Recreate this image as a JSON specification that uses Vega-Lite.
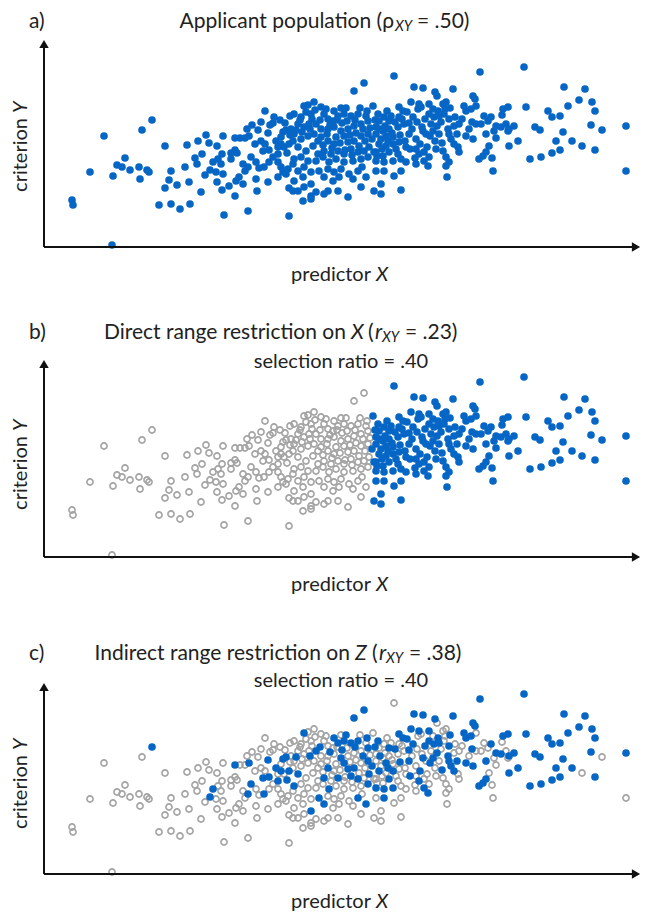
{
  "$schema": "https://vega.github.io/schema/vega-lite/v6.json",
  "background": "white",
  "padding": {"left": 11, "top": 11, "right": 5, "bottom": 2},
  "spacing": 112,
  "bounds": "flush",
  "config": {"view": {"stroke": null}, "font": "Lato"},
  "datasets": {
    "pts": [
      {"x":28,"y":47,"z":0},{"x":29,"y":42,"z":0},{"x":46,"y":75,"z":0},{"x":60,"y":111,"z":0},{"x":68,"y":2,"z":0},{"x":69,"y":71,"z":0},{"x":73,"y":82,"z":0},{"x":78,"y":80,"z":0},{"x":81,"y":89,"z":0},{"x":86,"y":77,"z":0},{"x":95,"y":80,"z":0},{"x":96,"y":68,"z":0},{"x":98,"y":117,"z":0},{"x":103,"y":77,"z":0},{"x":105,"y":75,"z":0},{"x":108,"y":127,"z":1},{"x":115,"y":42,"z":0},{"x":121,"y":101,"z":0},{"x":121,"y":59,"z":0},{"x":125,"y":67,"z":0},{"x":127,"y":76,"z":0},{"x":127,"y":43,"z":0},{"x":133,"y":62,"z":0},{"x":136,"y":38,"z":0},{"x":141,"y":80,"z":0},{"x":143,"y":102,"z":0},{"x":145,"y":65,"z":0},{"x":146,"y":43,"z":0},{"x":151,"y":89,"z":0},{"x":153,"y":83,"z":0},{"x":154,"y":106,"z":0},
      {"x":157,"y":55,"z":0},{"x":158,"y":93,"z":0},{"x":161,"y":72,"z":0},{"x":162,"y":112,"z":0},{"x":165,"y":104,"z":0},{"x":169,"y":85,"z":1},{"x":166,"y":77,"z":1},{"x":173,"y":101,"z":0},{"x":174,"y":88,"z":0},{"x":177,"y":83,"z":0},{"x":178,"y":93,"z":0},{"x":179,"y":111,"z":0},{"x":172,"y":75,"z":0},{"x":179,"y":73,"z":0},{"x":173,"y":65,"z":0},{"x":178,"y":57,"z":0},{"x":180,"y":32,"z":0},{"x":185,"y":61,"z":0},{"x":187,"y":94,"z":0},{"x":187,"y":88,"z":0},{"x":191,"y":109,"z":1},{"x":191,"y":97,"z":0},{"x":193,"y":94,"z":0},{"x":191,"y":51,"z":0},{"x":192,"y":66,"z":0},{"x":195,"y":70,"z":0},{"x":196,"y":109,"z":0},{"x":199,"y":83,"z":0},{"x":199,"y":63,"z":0},{"x":201,"y":109,"z":0},{"x":201,"y":76,"z":0},{"x":204,"y":80,"z":1},{"x":204,"y":36,"z":0},{"x":205,"y":111,"z":1},{"x":207,"y":90,"z":1},{"x":211,"y":103,"z":0},{"x":212,"y":85,"z":0},{"x":212,"y":68,"z":0},{"x":213,"y":56,"z":0},{"x":215,"y":79,"z":0},{"x":217,"y":106,"z":0},{"x":219,"y":96,"z":1},{"x":220,"y":80,"z":1},{"x":221,"y":103,"z":0},{"x":221,"y":136,"z":0},{"x":224,"y":114,"z":1},{"x":224,"y":65,"z":0},{"x":225,"y":97,"z":1},{"x":225,"y":85,"z":0},{"x":226,"y":122,"z":0},{"x":229,"y":124,"z":0},{"x":229,"y":90,"z":0},{"x":232,"y":106,"z":1},{"x":234,"y":100,"z":0},{"x":234,"y":85,"z":0},{"x":234,"y":70,"z":0},{"x":234,"y":93,"z":1},{"x":237,"y":110,"z":0},{"x":237,"y":103,"z":1},{"x":237,"y":80,"z":0},{"x":239,"y":115,"z":1},{"x":239,"y":75,"z":0},{"x":240,"y":100,"z":0},{"x":242,"y":117,"z":1},{"x":242,"y":73,"z":0},{"x":243,"y":94,"z":1},{"x":244,"y":78,"z":0},{"x":245,"y":103,"z":1},{"x":245,"y":59,"z":0},{"x":245,"y":31,"z":0},{"x":246,"y":131,"z":0},{"x":247,"y":118,"z":0},{"x":249,"y":106,"z":0},{"x":249,"y":83,"z":0},{"x":249,"y":56,"z":0},
      {"x":250,"y":133,"z":0},{"x":250,"y":113,"z":0},{"x":250,"y":88,"z":1},{"x":250,"y":66,"z":0},{"x":254,"y":123,"z":0},{"x":254,"y":100,"z":1},{"x":254,"y":76,"z":0},{"x":254,"y":56,"z":0},{"x":257,"y":130,"z":0},{"x":257,"y":108,"z":0},{"x":257,"y":90,"z":0},{"x":259,"y":46,"z":0},{"x":259,"y":70,"z":0},{"x":260,"y":141,"z":1},{"x":260,"y":120,"z":0},{"x":260,"y":80,"z":0},{"x":260,"y":60,"z":0},{"x":262,"y":96,"z":0},{"x":264,"y":142,"z":0},{"x":264,"y":111,"z":0},{"x":264,"y":86,"z":0},{"x":265,"y":123,"z":0},{"x":267,"y":133,"z":0},{"x":267,"y":75,"z":0},{"x":267,"y":63,"z":1},{"x":267,"y":51,"z":0},{"x":267,"y":48,"z":0},{"x":269,"y":101,"z":0},{"x":270,"y":145,"z":0},{"x":270,"y":113,"z":0},{"x":272,"y":123,"z":1},{"x":272,"y":86,"z":0},{"x":272,"y":55,"z":0},{"x":274,"y":93,"z":0},{"x":275,"y":76,"z":1},{"x":277,"y":140,"z":0},{"x":277,"y":118,"z":0},{"x":277,"y":110,"z":0},{"x":279,"y":90,"z":0},{"x":280,"y":133,"z":0},{"x":280,"y":96,"z":1},{"x":280,"y":70,"z":1},{"x":280,"y":53,"z":0},{"x":284,"y":128,"z":0},{"x":284,"y":118,"z":0},{"x":284,"y":106,"z":1},{"x":284,"y":78,"z":0},{"x":284,"y":56,"z":0},{"x":285,"y":85,"z":1},{"x":287,"y":93,"z":0},{"x":289,"y":126,"z":0},{"x":289,"y":66,"z":0},{"x":290,"y":136,"z":1},{"x":290,"y":120,"z":0},{"x":290,"y":103,"z":0},{"x":290,"y":75,"z":0},{"x":292,"y":88,"z":0},{"x":294,"y":131,"z":1},{"x":294,"y":96,"z":1},{"x":294,"y":56,"z":0},{"x":295,"y":70,"z":0},{"x":297,"y":139,"z":0},{"x":297,"y":116,"z":1},{"x":297,"y":78,"z":0},{"x":300,"y":133,"z":1},{"x":300,"y":111,"z":1},{"x":300,"y":93,"z":0},{"x":300,"y":85,"z":0},{"x":304,"y":118,"z":0},{"x":304,"y":105,"z":1},{"x":304,"y":50,"z":0},{"x":305,"y":73,"z":0},{"x":307,"y":131,"z":1},{"x":307,"y":98,"z":1},{"x":309,"y":86,"z":0},{"x":309,"y":68,"z":0},{"x":310,"y":156,"z":1},{"x":310,"y":121,"z":0},{"x":310,"y":106,"z":1},{"x":314,"y":133,"z":1},{"x":314,"y":95,"z":1},{"x":314,"y":76,"z":1},{"x":317,"y":123,"z":0},{"x":317,"y":111,"z":0},{"x":317,"y":88,"z":0},{"x":318,"y":80,"z":0},{"x":317,"y":60,"z":0},{"x":320,"y":164,"z":1},{"x":320,"y":96,"z":0},{"x":322,"y":70,"z":1},{"x":323,"y":136,"z":1},{"x":324,"y":126,"z":1},{"x":324,"y":113,"z":1},{"x":324,"y":90,"z":1},{"x":325,"y":100,"z":1},{"x":330,"y":56,"z":0},
      {"x":332,"y":120,"z":0},{"x":332,"y":113,"z":0},{"x":332,"y":95,"z":0},{"x":332,"y":86,"z":1},{"x":332,"y":76,"z":0},{"x":334,"y":133,"z":1},{"x":335,"y":126,"z":0},{"x":335,"y":103,"z":1},{"x":337,"y":108,"z":0},{"x":337,"y":63,"z":0},{"x":337,"y":53,"z":0},{"x":339,"y":116,"z":0},{"x":339,"y":91,"z":0},{"x":340,"y":130,"z":0},{"x":340,"y":85,"z":1},{"x":340,"y":76,"z":1},{"x":342,"y":111,"z":1},{"x":342,"y":101,"z":0},{"x":345,"y":126,"z":1},{"x":345,"y":118,"z":0},{"x":345,"y":95,"z":1},{"x":349,"y":110,"z":0},{"x":349,"y":103,"z":1},{"x":349,"y":86,"z":1},{"x":350,"y":171,"z":0},{"x":350,"y":71,"z":0},{"x":354,"y":120,"z":0},{"x":354,"y":93,"z":0},{"x":355,"y":140,"z":1},{"x":355,"y":130,"z":0},{"x":355,"y":105,"z":0},{"x":357,"y":88,"z":0},{"x":357,"y":76,"z":0},{"x":357,"y":57,"z":0},{"x":359,"y":136,"z":1},{"x":360,"y":123,"z":0},{"x":362,"y":100,"z":0},{"x":362,"y":85,"z":0},{"x":365,"y":124,"z":1},{"x":365,"y":113,"z":1},{"x":367,"y":145,"z":1},{"x":370,"y":160,"z":1},{"x":372,"y":108,"z":0},{"x":372,"y":98,"z":0},{"x":372,"y":83,"z":0},{"x":374,"y":138,"z":0},{"x":375,"y":143,"z":1},{"x":375,"y":93,"z":1},{"x":377,"y":140,"z":0},{"x":379,"y":159,"z":1},{"x":379,"y":116,"z":1},{"x":380,"y":95,"z":0},{"x":380,"y":86,"z":1},{"x":382,"y":113,"z":0},{"x":384,"y":81,"z":1},{"x":385,"y":143,"z":1},{"x":385,"y":133,"z":1},{"x":385,"y":90,"z":0},{"x":389,"y":138,"z":0},{"x":389,"y":116,"z":1},{"x":390,"y":130,"z":1},{"x":391,"y":155,"z":1},{"x":392,"y":98,"z":0},{"x":393,"y":151,"z":0},{"x":394,"y":136,"z":1},{"x":395,"y":131,"z":1},{"x":395,"y":113,"z":0},{"x":399,"y":143,"z":0},{"x":399,"y":96,"z":0},{"x":400,"y":133,"z":0},{"x":402,"y":145,"z":0},{"x":402,"y":90,"z":0},{"x":402,"y":81,"z":0},{"x":403,"y":70,"z":0},{"x":404,"y":118,"z":1},{"x":405,"y":128,"z":1},{"x":405,"y":113,"z":1},{"x":405,"y":85,"z":0},{"x":407,"y":108,"z":1},{"x":409,"y":158,"z":1},{"x":410,"y":121,"z":0},{"x":410,"y":103,"z":1},{"x":414,"y":100,"z":0},{"x":415,"y":123,"z":0},{"x":415,"y":95,"z":0},{"x":422,"y":136,"z":1},{"x":422,"y":111,"z":1},{"x":427,"y":138,"z":1},{"x":429,"y":151,"z":1},{"x":429,"y":108,"z":1},{"x":431,"y":148,"z":1},{"x":432,"y":141,"z":0},{"x":432,"y":123,"z":0},{"x":435,"y":88,"z":1},{"x":436,"y":175,"z":1},{"x":437,"y":123,"z":0},{"x":439,"y":91,"z":1},{"x":440,"y":131,"z":0},{"x":442,"y":113,"z":1},{"x":444,"y":126,"z":0},{"x":449,"y":76,"z":0},{"x":450,"y":116,"z":0},
      {"x":447,"y":130,"z":1},{"x":452,"y":121,"z":1},{"x":457,"y":120,"z":1},{"x":462,"y":123,"z":0},{"x":465,"y":118,"z":1},{"x":470,"y":121,"z":1},{"x":464,"y":116,"z":0},{"x":459,"y":138,"z":1},{"x":464,"y":140,"z":1},{"x":458,"y":132,"z":0},{"x":480,"y":180,"z":1},{"x":482,"y":140,"z":1},{"x":491,"y":120,"z":1},{"x":496,"y":117,"z":1},{"x":504,"y":136,"z":1},{"x":508,"y":130,"z":1},{"x":516,"y":131,"z":1},{"x":520,"y":160,"z":1},{"x":541,"y":158,"z":1},{"x":535,"y":147,"z":1},{"x":548,"y":145,"z":1},{"x":551,"y":136,"z":1},{"x":524,"y":141,"z":1},{"x":547,"y":122,"z":1},{"x":558,"y":117,"z":0},{"x":582,"y":121,"z":1},{"x":519,"y":115,"z":1},{"x":452,"y":109,"z":0},{"x":474,"y":106,"z":1},{"x":465,"y":101,"z":1},{"x":512,"y":106,"z":1},{"x":528,"y":106,"z":1},{"x":538,"y":101,"z":0},{"x":516,"y":97,"z":1},{"x":508,"y":94,"z":1},{"x":497,"y":90,"z":1},{"x":486,"y":88,"z":1},{"x":551,"y":97,"z":1},{"x":445,"y":101,"z":0},{"x":442,"y":95,"z":1},{"x":448,"y":89,"z":0},{"x":582,"y":76,"z":0},
      {"x":203,"y":118,"z":0},{"x":208,"y":122,"z":0},{"x":214,"y":117,"z":0},{"x":217,"y":125,"z":0},{"x":230,"y":130,"z":0},{"x":236,"y":127,"z":0},{"x":241,"y":124,"z":0},{"x":246,"y":112,"z":0},{"x":252,"y":117,"z":1},{"x":256,"y":127,"z":0},{"x":258,"y":115,"z":0},{"x":262,"y":135,"z":0},{"x":266,"y":118,"z":1},{"x":268,"y":128,"z":0},{"x":271,"y":137,"z":0},{"x":274,"y":106,"z":0},{"x":276,"y":127,"z":1},{"x":279,"y":102,"z":0},{"x":282,"y":138,"z":0},{"x":283,"y":113,"z":0},{"x":286,"y":122,"z":1},{"x":288,"y":99,"z":0},{"x":292,"y":110,"z":0},{"x":293,"y":127,"z":0},{"x":296,"y":104,"z":0},{"x":298,"y":124,"z":1},{"x":301,"y":97,"z":0},{"x":302,"y":139,"z":1},{"x":303,"y":126,"z":0},{"x":306,"y":112,"z":0},{"x":308,"y":92,"z":0},{"x":311,"y":127,"z":1},{"x":312,"y":114,"z":0},{"x":315,"y":101,"z":0},{"x":316,"y":139,"z":0},{"x":319,"y":118,"z":1},{"x":321,"y":106,"z":0},{"x":322,"y":131,"z":0},{"x":326,"y":119,"z":0},{"x":328,"y":108,"z":1},{"x":329,"y":141,"z":0},{"x":330,"y":95,"z":0},{"x":331,"y":127,"z":1},{"x":333,"y":91,"z":0},{"x":336,"y":118,"z":1},{"x":338,"y":98,"z":0},{"x":341,"y":121,"z":0},{"x":343,"y":136,"z":0},{"x":344,"y":106,"z":1},{"x":347,"y":131,"z":0},{"x":348,"y":114,"z":0},{"x":351,"y":125,"z":1},{"x":352,"y":98,"z":0},{"x":356,"y":112,"z":1},{"x":358,"y":128,"z":0},{"x":361,"y":106,"z":0},{"x":363,"y":135,"z":1},{"x":366,"y":98,"z":1},{"x":368,"y":118,"z":0},{"x":369,"y":130,"z":1},{"x":371,"y":89,"z":0},{"x":373,"y":125,"z":0},{"x":376,"y":103,"z":1},{"x":378,"y":120,"z":0},{"x":381,"y":128,"z":1},{"x":383,"y":100,"z":0},{"x":386,"y":111,"z":1},{"x":387,"y":123,"z":0},{"x":391,"y":106,"z":0},{"x":393,"y":121,"z":1},{"x":397,"y":125,"z":0},{"x":398,"y":104,"z":1},{"x":401,"y":138,"z":0},{"x":406,"y":139,"z":1},{"x":411,"y":130,"z":0},{"x":413,"y":113,"z":1},{"x":418,"y":128,"z":0},{"x":420,"y":141,"z":1},{"x":425,"y":118,"z":0},{"x":428,"y":125,"z":1}
    ]
  },
  "vconcat": [
    {
      "width": 598, "height": 210,
      "data": {"values": [{}]},
      "layer": [
        {"data": {"name": "pts"}, "mark": {"type": "point", "filled": true, "size": 58, "opacity": 1, "color": "#0566c6"},
         "encoding": {"x": {"field": "x", "type": "quantitative", "scale": {"domain": [0, 598], "nice": false}, "axis": null},
                      "y": {"field": "y", "type": "quantitative", "scale": {"domain": [0, 210], "nice": false}, "axis": null}}},
        {"mark": {"type": "rule", "color": "#111", "strokeWidth": 2},
         "encoding": {"x": {"datum": 0, "type": "quantitative", "scale": {"domain": [0, 598], "nice": false}, "axis": null}, "x2": {"datum": 590},
                      "y": {"datum": 0, "type": "quantitative", "scale": {"domain": [0, 210], "nice": false}, "axis": null}}},
        {"mark": {"type": "rule", "color": "#111", "strokeWidth": 2},
         "encoding": {"x": {"datum": 0, "type": "quantitative", "scale": {"domain": [0, 598], "nice": false}, "axis": null},
                      "y": {"datum": 0, "type": "quantitative", "scale": {"domain": [0, 210], "nice": false}, "axis": null}, "y2": {"datum": 200}}},
        {"mark": {"type": "point", "shape": "triangle-right", "filled": true, "size": 90, "opacity": 1, "color": "#111"},
         "encoding": {"x": {"datum": 592, "type": "quantitative", "scale": {"domain": [0, 598], "nice": false}, "axis": null},
                      "y": {"datum": 0, "type": "quantitative", "scale": {"domain": [0, 210], "nice": false}, "axis": null}}},
        {"mark": {"type": "point", "shape": "triangle-up", "filled": true, "size": 90, "opacity": 1, "color": "#111"},
         "encoding": {"x": {"datum": 0, "type": "quantitative", "scale": {"domain": [0, 598], "nice": false}, "axis": null},
                      "y": {"datum": 203, "type": "quantitative", "scale": {"domain": [0, 210], "nice": false}, "axis": null}}},
        {"mark": {"type": "text", "text": "a)", "fontSize": 21, "align": "left", "color": "#222"},
         "encoding": {"x": {"datum": -15, "type": "quantitative", "scale": {"domain": [0, 598], "nice": false}, "axis": null},
                      "y": {"datum": 225, "type": "quantitative", "scale": {"domain": [0, 210], "nice": false}, "axis": null}}},
        {"mark": {"type": "text", "text": "Applicant population (ρ", "fontSize": 21, "align": "right", "color": "#222"},
         "encoding": {"x": {"datum": 350, "type": "quantitative", "scale": {"domain": [0, 598], "nice": false}, "axis": null},
                      "y": {"datum": 225, "type": "quantitative", "scale": {"domain": [0, 210], "nice": false}, "axis": null}}},
        {"mark": {"type": "text", "text": "XY", "fontSize": 14.5, "fontStyle": "italic", "align": "left", "color": "#222"},
         "encoding": {"x": {"datum": 351, "type": "quantitative", "scale": {"domain": [0, 598], "nice": false}, "axis": null},
                      "y": {"datum": 220, "type": "quantitative", "scale": {"domain": [0, 210], "nice": false}, "axis": null}}},
        {"mark": {"type": "text", "text": "= .50)", "fontSize": 21, "align": "left", "color": "#222"},
         "encoding": {"x": {"datum": 373, "type": "quantitative", "scale": {"domain": [0, 598], "nice": false}, "axis": null},
                      "y": {"datum": 225, "type": "quantitative", "scale": {"domain": [0, 210], "nice": false}, "axis": null}}},
        {"mark": {"type": "text", "text": "predictor", "fontSize": 20, "align": "right", "color": "#222"},
         "encoding": {"x": {"datum": 327, "type": "quantitative", "scale": {"domain": [0, 598], "nice": false}, "axis": null},
                      "y": {"datum": -28, "type": "quantitative", "scale": {"domain": [0, 210], "nice": false}, "axis": null}}},
        {"mark": {"type": "text", "text": "X", "fontSize": 20, "fontStyle": "italic", "align": "left", "color": "#222"},
         "encoding": {"x": {"datum": 332, "type": "quantitative", "scale": {"domain": [0, 598], "nice": false}, "axis": null},
                      "y": {"datum": -28, "type": "quantitative", "scale": {"domain": [0, 210], "nice": false}, "axis": null}}},
        {"mark": {"type": "text", "text": "criterion", "fontSize": 20, "angle": 270, "align": "right", "baseline": "middle", "color": "#222"},
         "encoding": {"x": {"datum": -23, "type": "quantitative", "scale": {"domain": [0, 598], "nice": false}, "axis": null},
                      "y": {"datum": 129, "type": "quantitative", "scale": {"domain": [0, 210], "nice": false}, "axis": null}}},
        {"mark": {"type": "text", "text": "Y", "fontSize": 20, "fontStyle": "italic", "angle": 270, "align": "left", "baseline": "middle", "color": "#222"},
         "encoding": {"x": {"datum": -23, "type": "quantitative", "scale": {"domain": [0, 598], "nice": false}, "axis": null},
                      "y": {"datum": 134, "type": "quantitative", "scale": {"domain": [0, 210], "nice": false}, "axis": null}}}
      ]
    },
    {
      "width": 598, "height": 198,
      "data": {"values": [{}]},
      "layer": [
        {"data": {"name": "pts"}, "transform": [{"filter": "datum.x < 327"}], "mark": {"type": "point", "filled": false, "size": 38, "strokeWidth": 1.6, "opacity": 1, "color": "#a3a3a3"},
         "encoding": {"x": {"field": "x", "type": "quantitative", "scale": {"domain": [0, 598], "nice": false}, "axis": null},
                      "y": {"field": "y", "type": "quantitative", "scale": {"domain": [0, 198], "nice": false}, "axis": null}}},
        {"data": {"name": "pts"}, "transform": [{"filter": "datum.x >= 327"}], "mark": {"type": "point", "filled": true, "size": 58, "opacity": 1, "color": "#0566c6"},
         "encoding": {"x": {"field": "x", "type": "quantitative", "scale": {"domain": [0, 598], "nice": false}, "axis": null},
                      "y": {"field": "y", "type": "quantitative", "scale": {"domain": [0, 198], "nice": false}, "axis": null}}},
        {"mark": {"type": "rule", "color": "#111", "strokeWidth": 2},
         "encoding": {"x": {"datum": 0, "type": "quantitative", "scale": {"domain": [0, 598], "nice": false}, "axis": null}, "x2": {"datum": 590},
                      "y": {"datum": 0, "type": "quantitative", "scale": {"domain": [0, 198], "nice": false}, "axis": null}}},
        {"mark": {"type": "rule", "color": "#111", "strokeWidth": 2},
         "encoding": {"x": {"datum": 0, "type": "quantitative", "scale": {"domain": [0, 598], "nice": false}, "axis": null},
                      "y": {"datum": 0, "type": "quantitative", "scale": {"domain": [0, 198], "nice": false}, "axis": null}, "y2": {"datum": 190}}},
        {"mark": {"type": "point", "shape": "triangle-right", "filled": true, "size": 90, "opacity": 1, "color": "#111"},
         "encoding": {"x": {"datum": 592, "type": "quantitative", "scale": {"domain": [0, 598], "nice": false}, "axis": null},
                      "y": {"datum": 0, "type": "quantitative", "scale": {"domain": [0, 198], "nice": false}, "axis": null}}},
        {"mark": {"type": "point", "shape": "triangle-up", "filled": true, "size": 90, "opacity": 1, "color": "#111"},
         "encoding": {"x": {"datum": 0, "type": "quantitative", "scale": {"domain": [0, 598], "nice": false}, "axis": null},
                      "y": {"datum": 193, "type": "quantitative", "scale": {"domain": [0, 198], "nice": false}, "axis": null}}},
        {"mark": {"type": "text", "text": "b)", "fontSize": 21, "align": "left", "color": "#222"},
         "encoding": {"x": {"datum": -15, "type": "quantitative", "scale": {"domain": [0, 598], "nice": false}, "axis": null},
                      "y": {"datum": 224, "type": "quantitative", "scale": {"domain": [0, 198], "nice": false}, "axis": null}}},
        {"mark": {"type": "text", "text": "Direct range restriction on", "fontSize": 21, "align": "right", "color": "#222"},
         "encoding": {"x": {"datum": 302, "type": "quantitative", "scale": {"domain": [0, 598], "nice": false}, "axis": null},
                      "y": {"datum": 224, "type": "quantitative", "scale": {"domain": [0, 198], "nice": false}, "axis": null}}},
        {"mark": {"type": "text", "text": "X", "fontSize": 21, "fontStyle": "italic", "align": "left", "color": "#222"},
         "encoding": {"x": {"datum": 307, "type": "quantitative", "scale": {"domain": [0, 598], "nice": false}, "axis": null},
                      "y": {"datum": 224, "type": "quantitative", "scale": {"domain": [0, 198], "nice": false}, "axis": null}}},
        {"mark": {"type": "text", "text": "(", "fontSize": 21, "align": "left", "color": "#222"},
         "encoding": {"x": {"datum": 324, "type": "quantitative", "scale": {"domain": [0, 598], "nice": false}, "axis": null},
                      "y": {"datum": 224, "type": "quantitative", "scale": {"domain": [0, 198], "nice": false}, "axis": null}}},
        {"mark": {"type": "text", "text": "r", "fontSize": 21, "fontStyle": "italic", "align": "left", "color": "#222"},
         "encoding": {"x": {"datum": 331, "type": "quantitative", "scale": {"domain": [0, 598], "nice": false}, "axis": null},
                      "y": {"datum": 224, "type": "quantitative", "scale": {"domain": [0, 198], "nice": false}, "axis": null}}},
        {"mark": {"type": "text", "text": "XY", "fontSize": 14.5, "fontStyle": "italic", "align": "left", "color": "#222"},
         "encoding": {"x": {"datum": 338, "type": "quantitative", "scale": {"domain": [0, 598], "nice": false}, "axis": null},
                      "y": {"datum": 219, "type": "quantitative", "scale": {"domain": [0, 198], "nice": false}, "axis": null}}},
        {"mark": {"type": "text", "text": "= .23)", "fontSize": 21, "align": "left", "color": "#222"},
         "encoding": {"x": {"datum": 361, "type": "quantitative", "scale": {"domain": [0, 598], "nice": false}, "axis": null},
                      "y": {"datum": 224, "type": "quantitative", "scale": {"domain": [0, 198], "nice": false}, "axis": null}}},
        {"mark": {"type": "text", "text": "selection ratio = .40", "fontSize": 20, "align": "center", "color": "#222"},
         "encoding": {"x": {"datum": 297, "type": "quantitative", "scale": {"domain": [0, 598], "nice": false}, "axis": null},
                      "y": {"datum": 195, "type": "quantitative", "scale": {"domain": [0, 198], "nice": false}, "axis": null}}},
        {"mark": {"type": "text", "text": "predictor", "fontSize": 20, "align": "right", "color": "#222"},
         "encoding": {"x": {"datum": 327, "type": "quantitative", "scale": {"domain": [0, 598], "nice": false}, "axis": null},
                      "y": {"datum": -28, "type": "quantitative", "scale": {"domain": [0, 198], "nice": false}, "axis": null}}},
        {"mark": {"type": "text", "text": "X", "fontSize": 20, "fontStyle": "italic", "align": "left", "color": "#222"},
         "encoding": {"x": {"datum": 332, "type": "quantitative", "scale": {"domain": [0, 598], "nice": false}, "axis": null},
                      "y": {"datum": -28, "type": "quantitative", "scale": {"domain": [0, 198], "nice": false}, "axis": null}}},
        {"mark": {"type": "text", "text": "criterion", "fontSize": 20, "angle": 270, "align": "right", "baseline": "middle", "color": "#222"},
         "encoding": {"x": {"datum": -23, "type": "quantitative", "scale": {"domain": [0, 598], "nice": false}, "axis": null},
                      "y": {"datum": 121, "type": "quantitative", "scale": {"domain": [0, 198], "nice": false}, "axis": null}}},
        {"mark": {"type": "text", "text": "Y", "fontSize": 20, "fontStyle": "italic", "angle": 270, "align": "left", "baseline": "middle", "color": "#222"},
         "encoding": {"x": {"datum": -23, "type": "quantitative", "scale": {"domain": [0, 598], "nice": false}, "axis": null},
                      "y": {"datum": 126, "type": "quantitative", "scale": {"domain": [0, 198], "nice": false}, "axis": null}}}
      ]
    },
    {
      "width": 598, "height": 205,
      "data": {"values": [{}]},
      "layer": [
        {"data": {"name": "pts"}, "transform": [{"filter": "datum.z == 0"}], "mark": {"type": "point", "filled": false, "size": 38, "strokeWidth": 1.6, "opacity": 1, "color": "#a3a3a3"},
         "encoding": {"x": {"field": "x", "type": "quantitative", "scale": {"domain": [0, 598], "nice": false}, "axis": null},
                      "y": {"field": "y", "type": "quantitative", "scale": {"domain": [0, 205], "nice": false}, "axis": null}}},
        {"data": {"name": "pts"}, "transform": [{"filter": "datum.z == 1"}], "mark": {"type": "point", "filled": true, "size": 58, "opacity": 1, "color": "#0566c6"},
         "encoding": {"x": {"field": "x", "type": "quantitative", "scale": {"domain": [0, 598], "nice": false}, "axis": null},
                      "y": {"field": "y", "type": "quantitative", "scale": {"domain": [0, 205], "nice": false}, "axis": null}}},
        {"mark": {"type": "rule", "color": "#111", "strokeWidth": 2},
         "encoding": {"x": {"datum": 0, "type": "quantitative", "scale": {"domain": [0, 598], "nice": false}, "axis": null}, "x2": {"datum": 590},
                      "y": {"datum": 0, "type": "quantitative", "scale": {"domain": [0, 205], "nice": false}, "axis": null}}},
        {"mark": {"type": "rule", "color": "#111", "strokeWidth": 2},
         "encoding": {"x": {"datum": 0, "type": "quantitative", "scale": {"domain": [0, 598], "nice": false}, "axis": null},
                      "y": {"datum": 0, "type": "quantitative", "scale": {"domain": [0, 205], "nice": false}, "axis": null}, "y2": {"datum": 184}}},
        {"mark": {"type": "point", "shape": "triangle-right", "filled": true, "size": 90, "opacity": 1, "color": "#111"},
         "encoding": {"x": {"datum": 592, "type": "quantitative", "scale": {"domain": [0, 598], "nice": false}, "axis": null},
                      "y": {"datum": 0, "type": "quantitative", "scale": {"domain": [0, 205], "nice": false}, "axis": null}}},
        {"mark": {"type": "point", "shape": "triangle-up", "filled": true, "size": 90, "opacity": 1, "color": "#111"},
         "encoding": {"x": {"datum": 0, "type": "quantitative", "scale": {"domain": [0, 598], "nice": false}, "axis": null},
                      "y": {"datum": 187, "type": "quantitative", "scale": {"domain": [0, 205], "nice": false}, "axis": null}}},
        {"mark": {"type": "text", "text": "c)", "fontSize": 21, "align": "left", "color": "#222"},
         "encoding": {"x": {"datum": -15, "type": "quantitative", "scale": {"domain": [0, 598], "nice": false}, "axis": null},
                      "y": {"datum": 220, "type": "quantitative", "scale": {"domain": [0, 205], "nice": false}, "axis": null}}},
        {"mark": {"type": "text", "text": "Indirect range restriction on", "fontSize": 21, "align": "right", "color": "#222"},
         "encoding": {"x": {"datum": 306, "type": "quantitative", "scale": {"domain": [0, 598], "nice": false}, "axis": null},
                      "y": {"datum": 220, "type": "quantitative", "scale": {"domain": [0, 205], "nice": false}, "axis": null}}},
        {"mark": {"type": "text", "text": "Z", "fontSize": 21, "fontStyle": "italic", "align": "left", "color": "#222"},
         "encoding": {"x": {"datum": 311, "type": "quantitative", "scale": {"domain": [0, 598], "nice": false}, "axis": null},
                      "y": {"datum": 220, "type": "quantitative", "scale": {"domain": [0, 205], "nice": false}, "axis": null}}},
        {"mark": {"type": "text", "text": "(", "fontSize": 21, "align": "left", "color": "#222"},
         "encoding": {"x": {"datum": 328, "type": "quantitative", "scale": {"domain": [0, 598], "nice": false}, "axis": null},
                      "y": {"datum": 220, "type": "quantitative", "scale": {"domain": [0, 205], "nice": false}, "axis": null}}},
        {"mark": {"type": "text", "text": "r", "fontSize": 21, "fontStyle": "italic", "align": "left", "color": "#222"},
         "encoding": {"x": {"datum": 335, "type": "quantitative", "scale": {"domain": [0, 598], "nice": false}, "axis": null},
                      "y": {"datum": 220, "type": "quantitative", "scale": {"domain": [0, 205], "nice": false}, "axis": null}}},
        {"mark": {"type": "text", "text": "XY", "fontSize": 14.5, "fontStyle": "italic", "align": "left", "color": "#222"},
         "encoding": {"x": {"datum": 342, "type": "quantitative", "scale": {"domain": [0, 598], "nice": false}, "axis": null},
                      "y": {"datum": 215, "type": "quantitative", "scale": {"domain": [0, 205], "nice": false}, "axis": null}}},
        {"mark": {"type": "text", "text": "= .38)", "fontSize": 21, "align": "left", "color": "#222"},
         "encoding": {"x": {"datum": 365, "type": "quantitative", "scale": {"domain": [0, 598], "nice": false}, "axis": null},
                      "y": {"datum": 220, "type": "quantitative", "scale": {"domain": [0, 205], "nice": false}, "axis": null}}},
        {"mark": {"type": "text", "text": "selection ratio = .40", "fontSize": 20, "align": "center", "color": "#222"},
         "encoding": {"x": {"datum": 297, "type": "quantitative", "scale": {"domain": [0, 598], "nice": false}, "axis": null},
                      "y": {"datum": 193, "type": "quantitative", "scale": {"domain": [0, 205], "nice": false}, "axis": null}}},
        {"mark": {"type": "text", "text": "predictor", "fontSize": 20, "align": "right", "color": "#222"},
         "encoding": {"x": {"datum": 327, "type": "quantitative", "scale": {"domain": [0, 598], "nice": false}, "axis": null},
                      "y": {"datum": -28, "type": "quantitative", "scale": {"domain": [0, 205], "nice": false}, "axis": null}}},
        {"mark": {"type": "text", "text": "X", "fontSize": 20, "fontStyle": "italic", "align": "left", "color": "#222"},
         "encoding": {"x": {"datum": 332, "type": "quantitative", "scale": {"domain": [0, 598], "nice": false}, "axis": null},
                      "y": {"datum": -28, "type": "quantitative", "scale": {"domain": [0, 205], "nice": false}, "axis": null}}},
        {"mark": {"type": "text", "text": "criterion", "fontSize": 20, "angle": 270, "align": "right", "baseline": "middle", "color": "#222"},
         "encoding": {"x": {"datum": -23, "type": "quantitative", "scale": {"domain": [0, 598], "nice": false}, "axis": null},
                      "y": {"datum": 119, "type": "quantitative", "scale": {"domain": [0, 205], "nice": false}, "axis": null}}},
        {"mark": {"type": "text", "text": "Y", "fontSize": 20, "fontStyle": "italic", "angle": 270, "align": "left", "baseline": "middle", "color": "#222"},
         "encoding": {"x": {"datum": -23, "type": "quantitative", "scale": {"domain": [0, 598], "nice": false}, "axis": null},
                      "y": {"datum": 124, "type": "quantitative", "scale": {"domain": [0, 205], "nice": false}, "axis": null}}}
      ]
    }
  ]
}
